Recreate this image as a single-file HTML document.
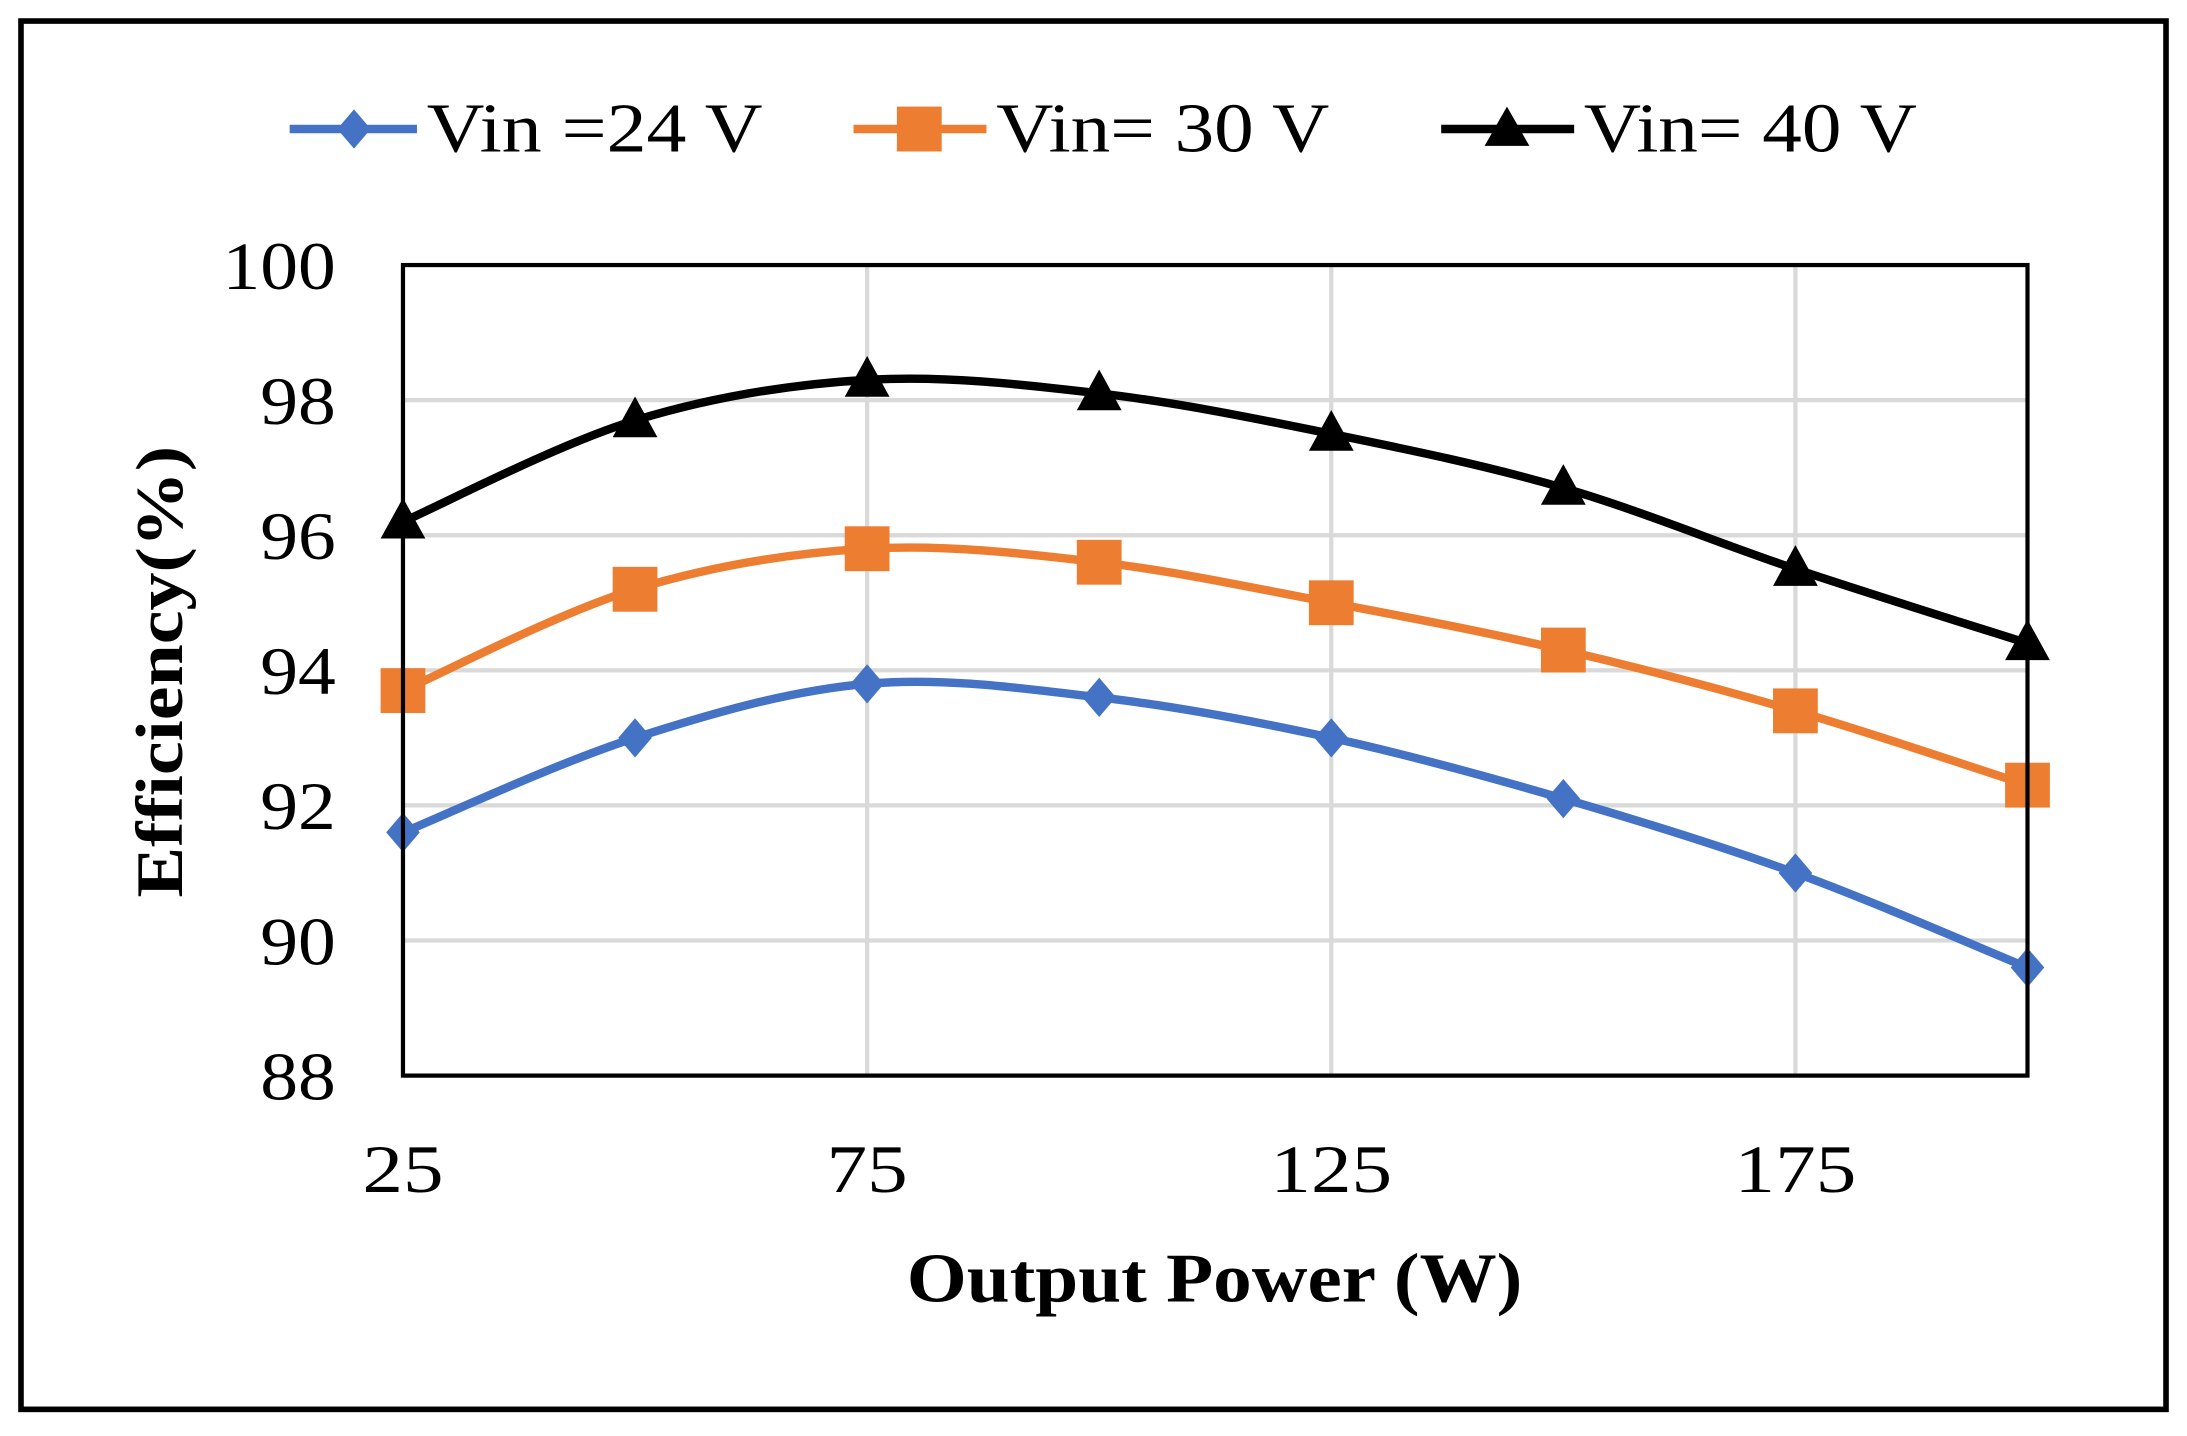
<!DOCTYPE html>
<html><head><meta charset="utf-8"><style>
html,body{margin:0;padding:0;background:#fff;}
svg{display:block;}
text{font-family:"Liberation Serif",serif;}
</style></head><body>
<svg id="chart" width="2187" height="1436" viewBox="0 0 1563 1024" preserveAspectRatio="none" xmlns="http://www.w3.org/2000/svg">
<rect x="0" y="0" width="1563" height="1024" fill="#fff"/>
<rect x="15" y="15" width="1533" height="990" fill="none" stroke="#000" stroke-width="4"/>
<g id="grid"></g>
<g id="series"></g>
<rect x="288" y="189" width="1161" height="578" fill="none" stroke="#000" stroke-width="3"/>
<g id="axes"></g>
<text x="648" y="928" font-size="50" font-weight="bold" textLength="440" lengthAdjust="spacingAndGlyphs">Output Power (W)</text>
<text transform="translate(130,640) rotate(-90)" font-size="48" font-weight="bold" textLength="322" lengthAdjust="spacingAndGlyphs">Efficiency(%)</text>
<g id="legend">
<g>
<line x1="207" y1="92" x2="298" y2="92" stroke="#4472C4" stroke-width="6"/>
<polygon points="253,78 265,92 253,106 241,92" fill="#4472C4"/>
<text x="305" y="108" font-size="50" textLength="240" lengthAdjust="spacingAndGlyphs">Vin =24 V</text></g>
<g>
<line x1="610" y1="92" x2="705" y2="92" stroke="#ED7D31" stroke-width="6"/>
<rect x="641" y="76" width="32" height="32" fill="#ED7D31"/>
<text x="712" y="108" font-size="50" textLength="238" lengthAdjust="spacingAndGlyphs">Vin= 30 V</text></g>
<g>
<line x1="1030" y1="92" x2="1125" y2="92" stroke="#000" stroke-width="6"/>
<polygon points="1077,76 1093,104 1061,104" fill="#000"/>
<text x="1132" y="108" font-size="50" textLength="238" lengthAdjust="spacingAndGlyphs">Vin= 40 V</text></g>
</g>
</svg>
<script>
const xValues=[25,50,75,100,125,150,175,200];
const v24=[91.6,93.0,93.8,93.6,93.0,92.1,91.0,89.6];
const v30=[93.7,95.2,95.8,95.6,95.0,94.3,93.4,92.3];
const v40=[96.2,97.7,98.3,98.1,97.5,96.7,95.5,94.4];
const yTicks=[88,90,92,94,96,98,100];
const xTicks=[25,75,125,175];
const NS="http://www.w3.org/2000/svg";
const X0=288,X1=1449,Y0=767,Y1=189;
function sx(v){return X0+(v-25)/(200-25)*(X1-X0);}
function sy(v){return Y0-(v-88)/(100-88)*(Y0-Y1);}
function mk(t,a,p){const e=document.createElementNS(NS,t);for(const k in a)e.setAttribute(k,a[k]);p.appendChild(e);return e;}
const grid=document.getElementById('grid'),axes=document.getElementById('axes'),ser=document.getElementById('series');
yTicks.forEach(t=>{
 const l=mk('line',{x1:X0,x2:X1,y1:sy(t),y2:sy(t),stroke:'#d9d9d9','stroke-width':3},grid);
 
 
 const w=String(t).length*27;
 const tx=mk('text',{x:240-w,y:sy(t)+17,'font-size':48,textLength:w,lengthAdjust:'spacingAndGlyphs'},axes);
 tx.textContent=t;
 
 
});
xTicks.forEach(t=>{
 const l=mk('line',{x1:sx(t),x2:sx(t),y1:Y0,y2:Y1,stroke:'#d9d9d9','stroke-width':3},grid);
 
 
 const w=String(t).length*29;
 const tx=mk('text',{x:sx(t)-w/2,y:850,'font-size':48,textLength:w,lengthAdjust:'spacingAndGlyphs'},axes);
 tx.textContent=t;
 
 
});
function smooth(pts){
 let d='M'+pts[0][0]+','+pts[0][1];
 for(let i=0;i<pts.length-1;i++){
  const p0=pts[Math.max(0,i-1)],p1=pts[i],p2=pts[i+1],p3=pts[Math.min(pts.length-1,i+2)];
  const c1=[p1[0]+(p2[0]-p0[0])/6,p1[1]+(p2[1]-p0[1])/6];
  const c2=[p2[0]-(p3[0]-p1[0])/6,p2[1]-(p3[1]-p1[1])/6];
  d+=' C'+c1+' '+c2+' '+p2;
 }
 return d;
}
function drawSeries(vals,color,marker,name){
 const pts=vals.map((v,i)=>[sx(xValues[i]),sy(v)]);
 const p=mk('path',{d:smooth(pts),fill:'none',stroke:color,'stroke-width':6},ser);
 
 
 pts.forEach(([x,y])=>{
  let m;
  if(marker==='diamond')m=mk('polygon',{points:`${x},${y-14} ${x+12},${y} ${x},${y+14} ${x-12},${y}`,fill:color},ser);
  else if(marker==='square')m=mk('rect',{x:x-16,y:y-16,width:32,height:32,fill:color},ser);
  else m=mk('polygon',{points:`${x},${y-17} ${x+16},${y+12} ${x-16},${y+12}`,fill:color},ser);
  
  
 });
}
drawSeries(v24,'#4472C4','diamond','vin-24v');
drawSeries(v30,'#ED7D31','square','vin-30v');
drawSeries(v40,'#000000','triangle','vin-40v');
</script>
</body></html>
